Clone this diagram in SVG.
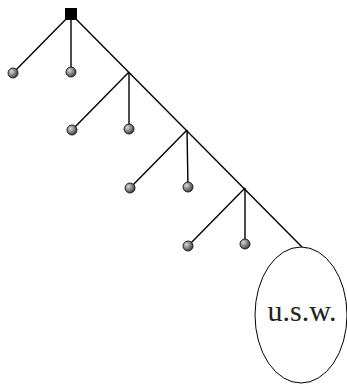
<svg xmlns="http://www.w3.org/2000/svg" width="347" height="385" viewBox="0 0 347 385">
  <style>
    .edge { stroke: #000; stroke-width: 1.4; fill: none; }
    .leaf { fill: url(#ball); stroke: #111; stroke-width: 0.9; }
    .label { font-family: "Liberation Serif", "DejaVu Serif", serif; font-size: 30px; fill: #222; }
  </style>
  <defs>
    <radialGradient id="ball" cx="0.35" cy="0.35" r="0.7">
      <stop offset="0" stop-color="#d8d8d8"/>
      <stop offset="1" stop-color="#3a3a3a"/>
    </radialGradient>
  </defs>
  <rect width="347" height="385" fill="#fff"/>
  <g id="connectors">
    <line class="edge" x1="71" y1="14" x2="302" y2="247"/>
    <line class="edge" x1="71" y1="14" x2="13" y2="73"/>
    <line class="edge" x1="71" y1="14" x2="71" y2="72"/>
    <line class="edge" x1="129" y1="72" x2="72" y2="130"/>
    <line class="edge" x1="129" y1="72" x2="129" y2="129"/>
    <line class="edge" x1="187" y1="130" x2="130" y2="188"/>
    <line class="edge" x1="187" y1="130" x2="188" y2="187"/>
    <line class="edge" x1="245" y1="188" x2="188" y2="246"/>
    <line class="edge" x1="245" y1="188" x2="245" y2="244"/>
  </g>
  <g id="root"><rect x="65" y="8" width="12" height="12" fill="#000"/></g>
  <g id="leaf1"><circle class="leaf" cx="13" cy="73" r="5"/></g>
  <g id="leaf2"><circle class="leaf" cx="71" cy="72" r="5"/></g>
  <g id="leaf3"><circle class="leaf" cx="72" cy="130" r="5"/></g>
  <g id="leaf4"><circle class="leaf" cx="129" cy="129" r="5"/></g>
  <g id="leaf5"><circle class="leaf" cx="130" cy="188" r="5"/></g>
  <g id="leaf6"><circle class="leaf" cx="188" cy="187" r="5"/></g>
  <g id="leaf7"><circle class="leaf" cx="188" cy="246" r="5"/></g>
  <g id="leaf8"><circle class="leaf" cx="245" cy="244" r="5"/></g>
  <g id="rest">
    <ellipse cx="301" cy="315" rx="46" ry="68" fill="#fff" stroke="#000" stroke-width="1"/>
    <text class="label" x="302" y="321" text-anchor="middle">u.s.w.</text>
  </g>
</svg>
